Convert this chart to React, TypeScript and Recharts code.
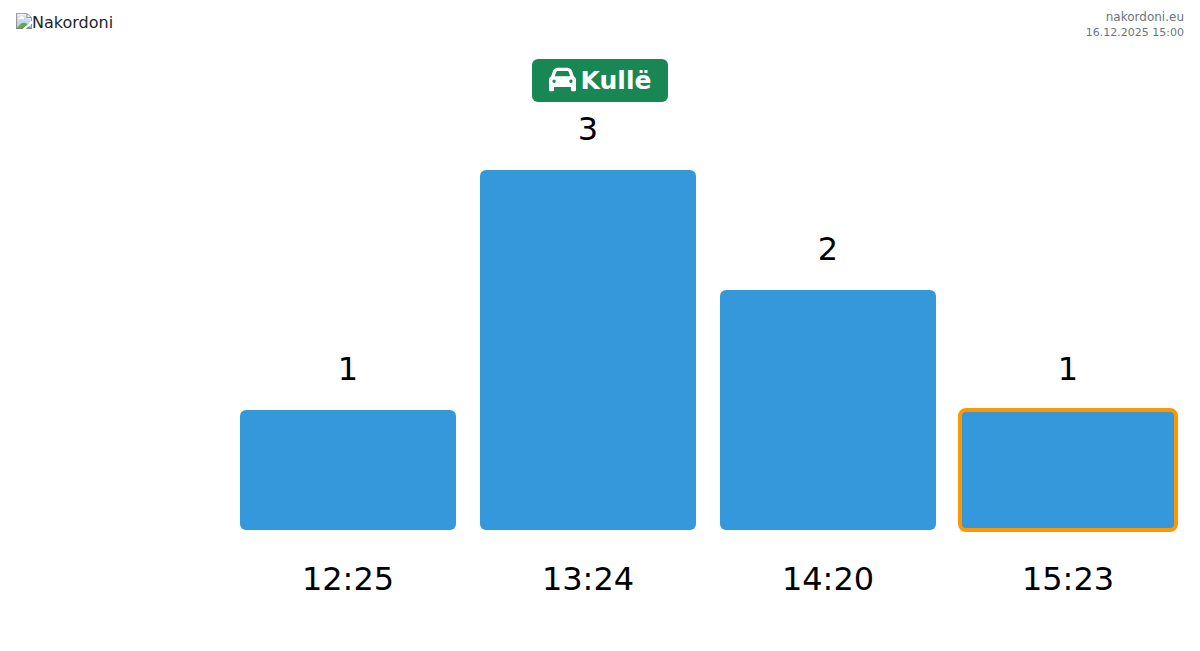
import { BarChart, Bar, XAxis, YAxis, Cell, LabelList } from "recharts";

const times = ["12:25", "13:24", "14:20", "15:23"];
const counts = [1, 3, 2, 1];
const currentTime = "15:23";

const rows = times.map((time, i) => ({ time, count: counts[i] }));

const FONT = '"DejaVu Sans", sans-serif';
const BAR_COLOR = "#3498db";
const CURRENT_BORDER = "#ff9800";

const CAR_PATH =
  "M135.2 117.4L109.1 192H402.9l-26.1-74.6C372.3 104.6 360.2 96 346.6 96H165.4c-13.6 0-25.7 8.6-30.2 21.4zM39.6 196.8L74.8 96.3C88.3 57.8 124.6 32 165.4 32H346.6c40.8 0 77.1 25.8 90.6 64.3l35.2 100.5c23.2 9.6 39.6 32.5 39.6 59.2V400v48c0 17.7-14.3 32-32 32H448c-17.7 0-32-14.3-32-32V400H96v48c0 17.7-14.3 32-32 32H32c-17.7 0-32-14.3-32-32V400 256c0-26.7 16.4-49.6 39.6-59.2zM128 288a32 32 0 1 0 -64 0 32 32 0 1 0 64 0zm288 32a32 32 0 1 0 0-64 32 32 0 1 0 0 64z";

export default function App() {
  return (
    <div
      style={{
        position: "absolute",
        left: 0,
        top: 0,
        width: 1200,
        height: 651,
        overflow: "hidden",
        background: "#fff",
        fontFamily: FONT,
      }}
    >
      {/* the logo file is missing on purpose, the browser draws its broken image icon */}
      <img
        src="logo-missing.png"
        alt="Nakordoni"
        style={{
          position: "absolute",
          left: 16,
          top: 13,
          fontSize: 16,
          color: "#212529",
        }}
      />
      <div
        style={{
          position: "absolute",
          right: 16,
          top: 9,
          textAlign: "right",
          fontSize: 12,
          lineHeight: "16px",
          color: "#6c757d",
        }}
      >
        <div>nakordoni.eu</div>
        <div style={{ fontSize: 11 }}>16.12.2025 15:00</div>
      </div>
      <div
        style={{
          position: "absolute",
          left: 532,
          top: 59,
          width: 136,
          height: 43,
          borderRadius: 6,
          background: "#198754",
          color: "#fff",
          fontWeight: 700,
          fontSize: 25,
          display: "flex",
          alignItems: "center",
          justifyContent: "center",
          gap: 5,
        }}
      >
        <svg width={27} height={27} viewBox="0 0 512 512" style={{ marginTop: -2 }}>
          <path d={CAR_PATH} fill="#fff" />
        </svg>
        <span>Kullë</span>
      </div>
      <BarChart
        width={1200}
        height={651}
        data={rows}
        margin={{ top: 50, right: 12, bottom: 61, left: 228 }}
        style={{ position: "absolute", left: 0, top: 0 }}
      >
        <XAxis
          dataKey="time"
          axisLine={false}
          tickLine={false}
          height={60}
          tickMargin={31}
          tick={{ fontSize: 32, fill: "#000", fontFamily: FONT }}
        />
        <YAxis hide domain={[0, 4]} />
        <Bar
          dataKey="count"
          barSize={216}
          fill={BAR_COLOR}
          radius={6}
          isAnimationActive={false}
        >
          {rows.map((r) => (
            <Cell
              key={r.time}
              fill={BAR_COLOR}
              stroke={r.time === currentTime ? CURRENT_BORDER : "none"}
              strokeWidth={r.time === currentTime ? 4 : 0}
            />
          ))}
          <LabelList
            dataKey="count"
            position="top"
            offset={30}
            style={{ fontSize: 32, fill: "#000", fontFamily: FONT }}
          />
        </Bar>
      </BarChart>
    </div>
  );
}
